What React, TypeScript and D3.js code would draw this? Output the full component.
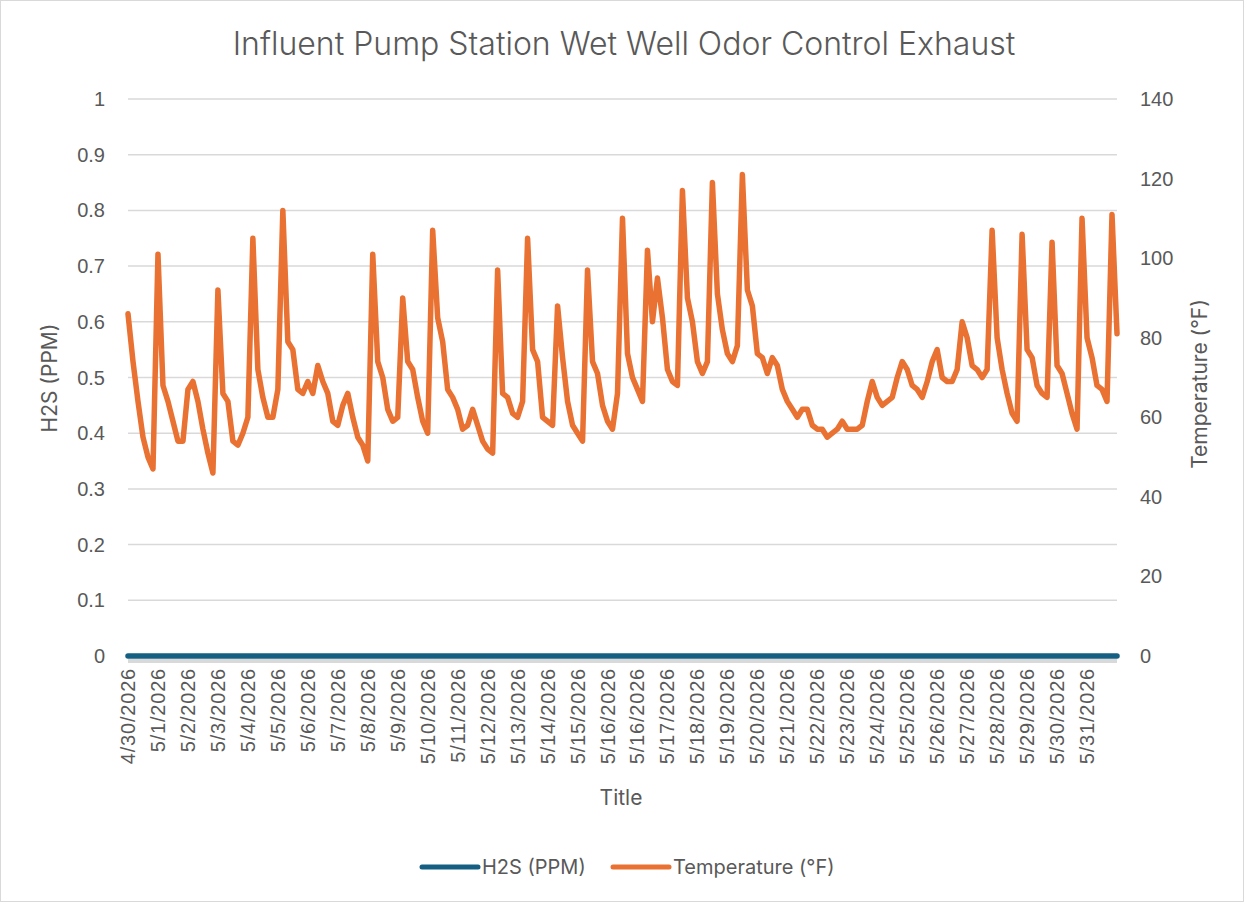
import { useEffect, useRef } from "react";
import * as d3 from "d3";

// temperature readings (°F), one per sample along the category axis
const temperatureF = [
  86, 74, 64, 55, 50, 47, 101, 68, 64, 59, 54, 54, 67, 69, 64, 57, 51, 46, 92, 66,
  64, 54, 53, 56, 60, 105, 72, 65, 60, 60, 67, 112, 79, 77, 67, 66, 69, 66, 73, 69,
  66, 59, 58, 63, 66, 60, 55, 53, 49, 101, 74, 70, 62, 59, 60, 90, 74, 72, 65, 59,
  56, 107, 85, 79, 67, 65, 62, 57, 58, 62, 58, 54, 52, 51, 97, 66, 65, 61, 60, 64,
  105, 77, 74, 60, 59, 58, 88, 75, 64, 58, 56, 54, 97, 74, 71, 63, 59, 57, 66, 110,
  76, 70, 67, 64, 102, 84, 95, 85, 72, 69, 68, 117, 90, 84, 74, 71, 74, 119, 91, 82,
  76, 74, 78, 121, 92, 88, 76, 75, 71, 75, 73, 67, 64, 62, 60, 62, 62, 58, 57, 57,
  55, 56, 57, 59, 57, 57, 57, 58, 64, 69, 65, 63, 64, 65, 70, 74, 72, 68, 67, 65,
  69, 74, 77, 70, 69, 69, 72, 84, 80, 73, 72, 70, 72, 107, 80, 72, 66, 61, 59, 106,
  77, 75, 68, 66, 65, 104, 73, 71, 66, 61, 57, 110, 80, 75, 68, 67, 64, 111, 81,
];

// H2S sensor read 0 ppm for every sample
const h2sPpm = temperatureF.map(() => 0);

const dateLabels = [
  "4/30/2026", "5/1/2026", "5/2/2026", "5/3/2026", "5/4/2026", "5/5/2026", "5/6/2026",
  "5/7/2026", "5/8/2026", "5/9/2026", "5/10/2026", "5/11/2026", "5/12/2026", "5/13/2026",
  "5/14/2026", "5/15/2026", "5/16/2026", "5/16/2026", "5/17/2026", "5/18/2026", "5/19/2026",
  "5/20/2026", "5/21/2026", "5/22/2026", "5/23/2026", "5/24/2026", "5/25/2026", "5/26/2026",
  "5/27/2026", "5/28/2026", "5/29/2026", "5/30/2026", "5/31/2026",
];
const labelEvery = 6;

const leftTicks = [0, 0.1, 0.2, 0.3, 0.4, 0.5, 0.6, 0.7, 0.8, 0.9, 1];
const rightTicks = [0, 20, 40, 60, 80, 100, 120, 140];

export default function App() {
  const svgRef = useRef<SVGSVGElement>(null);

  useEffect(() => {
    if (!svgRef.current) return;
    const svg = d3.select(svgRef.current);
    svg.selectAll("*").remove();

    const width = 1247;
    const height = 904;
    const left = 128, right = 1117, top = 99, bottom = 656;
    const textColor = "#595959";
    const tickFont = "'Liberation Sans', Arial, sans-serif";
    const uiFont = "Inter, 'Open Sans', sans-serif";

    const x = d3.scaleLinear().domain([0, temperatureF.length - 1]).range([left, right]);
    const yL = d3.scaleLinear().domain([0, 1]).range([bottom, top]);
    const yR = d3.scaleLinear().domain([0, 140]).range([bottom, top]);

    svg.append("rect").attr("x", 0).attr("y", 0).attr("width", width).attr("height", height).attr("fill", "#fff");
    svg.append("rect")
      .attr("x", 0.5).attr("y", 0.5).attr("width", 1243).attr("height", 901)
      .attr("fill", "none").attr("stroke", "#d9d9d9").attr("stroke-width", 1);

    // title
    svg.append("text")
      .attr("x", 624).attr("y", 55)
      .attr("text-anchor", "middle")
      .style("font-family", uiFont).style("font-size", "32px").style("font-weight", 300)
      .style("fill", textColor)
      .text("Influent Pump Station Wet Well Odor Control Exhaust");

    // gridlines
    svg.append("g").selectAll("line")
      .data(leftTicks)
      .enter().append("line")
      .attr("x1", left).attr("x2", right)
      .attr("y1", d => yL(d)).attr("y2", d => yL(d))
      .attr("stroke", "#d9d9d9").attr("stroke-width", 1.5);

    // x axis line
    svg.append("rect")
      .attr("x", left).attr("y", bottom + 3).attr("width", right - left).attr("height", 4)
      .attr("fill", "#d9d9d9");

    // left tick labels
    svg.append("g").selectAll("text")
      .data(leftTicks)
      .enter().append("text")
      .attr("x", 105).attr("y", d => yL(d))
      .attr("dy", "0.35em").attr("text-anchor", "end")
      .style("font-family", tickFont).style("font-size", "20px").style("fill", textColor)
      .text(d => d3.format("~g")(d));

    // right tick labels
    svg.append("g").selectAll("text")
      .data(rightTicks)
      .enter().append("text")
      .attr("x", 1140).attr("y", d => yR(d))
      .attr("dy", "0.35em").attr("text-anchor", "start")
      .style("font-family", tickFont).style("font-size", "20px").style("fill", textColor)
      .text(d => String(d));

    // x tick labels
    svg.append("g").selectAll("text")
      .data(dateLabels)
      .enter().append("text")
      .attr("transform", (_, i) => `translate(${x(i * labelEvery) + 7},668) rotate(-90)`)
      .attr("text-anchor", "end")
      .style("font-family", tickFont).style("font-size", "20px")
      .style("letter-spacing", "0.8px").style("fill", textColor)
      .text(d => d);

    // axis titles
    svg.append("text")
      .attr("transform", "translate(57,378) rotate(-90)")
      .attr("text-anchor", "middle")
      .style("font-family", uiFont).style("font-size", "21px").style("fill", textColor)
      .text("H2S (PPM)");
    svg.append("text")
      .attr("transform", "translate(1207,384) rotate(-90)")
      .attr("text-anchor", "middle")
      .style("font-family", uiFont).style("font-size", "21px").style("fill", textColor)
      .text("Temperature (°F)");
    svg.append("text")
      .attr("x", 621).attr("y", 805)
      .attr("text-anchor", "middle")
      .style("font-family", uiFont).style("font-size", "21px").style("fill", textColor)
      .text("Title");

    // series
    const lineL = d3.line<number>().x((_, i) => x(i)).y(d => yL(d));
    const lineR = d3.line<number>().x((_, i) => x(i)).y(d => yR(d));

    svg.append("path")
      .datum(h2sPpm)
      .attr("d", lineL)
      .attr("fill", "none").attr("stroke", "#156082").attr("stroke-width", 5.5)
      .attr("stroke-linecap", "round").attr("stroke-linejoin", "round");

    svg.append("path")
      .datum(temperatureF)
      .attr("d", lineR)
      .attr("fill", "none").attr("stroke", "#e97132").attr("stroke-width", 5.5)
      .attr("stroke-linecap", "round").attr("stroke-linejoin", "round");

    // legend
    const legend = [
      { name: "H2S (PPM)", color: "#156082", x0: 422 },
      { name: "Temperature (°F)", color: "#e97132", x0: 613 },
    ];
    const lg = svg.append("g").selectAll("g")
      .data(legend)
      .enter().append("g")
      .attr("transform", d => `translate(${d.x0},867)`);
    lg.append("line")
      .attr("x1", 0).attr("x2", 56).attr("y1", 0).attr("y2", 0)
      .attr("stroke", d => d.color).attr("stroke-width", 5).attr("stroke-linecap", "round");
    lg.append("text")
      .attr("x", 60).attr("dy", "0.35em")
      .style("font-family", uiFont).style("font-size", "20px").style("fill", textColor)
      .text(d => d.name);
  }, []);

  return (
    <svg
      ref={svgRef}
      width={1247}
      height={904}
      style={{ position: "absolute", left: 0, top: 0, display: "block" }}
    />
  );
}
